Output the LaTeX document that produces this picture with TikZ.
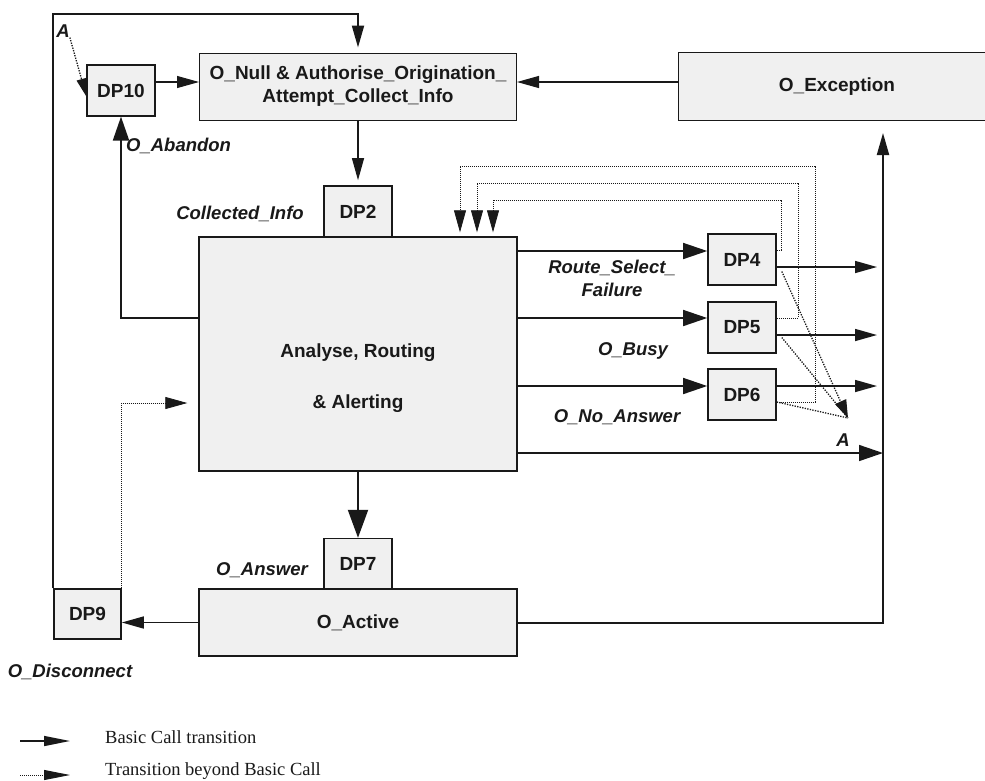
\documentclass[tikz,border=0pt]{standalone}
\usepackage{fontspec}
\setmainfont{Liberation Sans}
\newfontfamily\legendfont{Liberation Serif}
\usetikzlibrary{arrows.meta}
\definecolor{boxgray}{RGB}{240,240,240}
\definecolor{ink}{RGB}{25,25,25}
\begin{document}
\begin{tikzpicture}[x=1pt,y=-1pt,
  every node/.style={inner sep=0pt, text=ink},
  bx/.style={draw=ink, line width=1pt, fill=boxgray, align=center, font=\bfseries\fontsize{19}{23}\selectfont},
  dpbox/.style={bx, line width=1.6pt, minimum width=68pt, minimum height=51pt},
  lbl/.style={font=\bfseries\itshape\fontsize{18.5}{23}\selectfont, align=center},
  thinline/.style={draw=ink, line width=1.1pt},
  midline/.style={draw=ink, line width=1.5pt},
  thickline/.style={draw=ink, line width=2pt},
  dots/.style={draw=ink, line width=0.8pt, dash pattern=on 1pt off 1pt},
  densedots/.style={draw=ink, line width=1.3pt, dash pattern=on 1.3pt off 1.3pt},
  tipA/.style={-{Triangle[length=22pt,width=12pt]}},
  tipB/.style={-{Triangle[length=24pt,width=16pt]}},
  tipC/.style={-{Triangle[length=28pt,width=20pt]}},
]
\useasboundingbox (0,0) rectangle (985,780);

% ---------- boxes ----------
\node[bx, minimum width=317pt, minimum height=67pt] (onull) at (358,86.5)
  {O\_Null \& Authorise\_Origination\_\\Attempt\_Collect\_Info};
\node[bx, draw=none, minimum width=306pt, minimum height=67pt] (oexc) at (832,86.5)
  {\hspace*{10pt}O\_Exception};
\draw[ink, line width=1pt] (oexc.north east) -- (oexc.north west) -- (oexc.south west) -- (oexc.south east);

\node[dpbox, line width=1.2pt] (dp10) at (121,90.5) {DP10};
\node[dpbox] (dp2) at (358,211.5) {DP2};
\node[bx, line width=1.4pt, minimum width=318pt, minimum height=234pt] (ana) at (358,354) {};
\node[font=\bfseries\fontsize{19}{51}\selectfont, align=center] (anatxt) at (358,378)
  {Analyse, Routing\\\& Alerting};
\node[dpbox] (dp4) at (742,259.5) {DP4};
\node[dpbox] (dp5) at (742,327.5) {DP5};
\node[dpbox] (dp6) at (742,394.5) {DP6};
\node[dpbox, line width=1.4pt] (dp7) at (358,564) {DP7};
\node[bx, line width=1.4pt, minimum width=318pt, minimum height=67pt] (oact) at (358,622.5) {O\_Active};
\node[bx, line width=1.6pt, minimum width=67pt, minimum height=50pt] (dp9) at (87.5,614) {DP9};

% ---------- named points ----------
\coordinate (top) at (358,14);
\coordinate (vt) at (883,133);
\coordinate (apt) at (848,418);
\coordinate (c4) at (781,200); \coordinate (d4) at (493,200);
\coordinate (c5) at (798,183); \coordinate (d5) at (477,183);
\coordinate (c6) at (815,166); \coordinate (d6) at (460,166);
\path ([yshift=8.5pt]dp4.west) coordinate (in4)
      ([yshift=9.5pt]dp5.west) coordinate (in5)
      ([yshift=8.5pt]dp6.west) coordinate (in6)
      ([yshift=-7.5pt]dp4.east) coordinate (out4)
      ([yshift=-7.5pt]dp5.east) coordinate (out5)
      ([yshift=8.5pt]dp6.east) coordinate (out6)
      ([yshift=9.5pt]dp4.east) coordinate (fb4)
      ([yshift=9.5pt]dp5.east) coordinate (fb5)
      ([yshift=-7.5pt]dp6.east) coordinate (fb6)
      ([yshift=-99pt]ana.east) coordinate (abot);

% ---------- connectors ----------
\draw[thickline, tipA, shorten >=5pt] (dp9.north west) |- (top) -- (onull.north);
\node[lbl] (atop) at (63,31) {A};
\draw[densedots, -{Triangle[length=18pt,width=10pt]}] (atop.south east) -- ([yshift=-6pt]dp10.west);
\draw[thinline, tipA] ([yshift=8.5pt]dp10.east) -- ([yshift=4.5pt]onull.west);
\draw[thinline, tipA] ([yshift=4.5pt]oexc.west) -- ([yshift=4.5pt]onull.east);
\draw[thinline, tipA, shorten >=5pt] (onull.south) -- (dp2.north);
\draw[thickline, tipB] ([yshift=36pt]ana.west) -| (dp10.south);
\draw[dots, tipA] (dp9.north east) |- ([xshift=-11pt,yshift=-49pt]ana.west);

\draw[midline, tipB] (in4 -| ana.east) -- (in4);
\draw[midline, tipB] (in5 -| ana.east) -- (in5);
\draw[midline, tipB] (in6 -| ana.east) -- (in6);
\draw[midline, tipA, shorten >=6pt] (out4) -- (out4 -| vt);
\draw[midline, tipA, shorten >=6pt] (out5) -- (out5 -| vt);
\draw[midline, tipA, shorten >=6pt] (out6) -- (out6 -| vt);
\draw[midline, tipB] (abot) -- (abot -| vt);
\draw[thickline, tipA] (oact.east) -| (vt);
\draw[thickline, tipC] (ana.south) -- (dp7.north);
\draw[midline, tipA] (oact.west) -- (oact.west -| dp9.east);

\draw[dots, tipA, shorten >=4pt] (fb4) -| (c4) -- (d4) -- (d4 |- ana.north);
\draw[dots, tipA, shorten >=4pt] (fb5) -| (c5) -- (d5) -- (d5 |- ana.north);
\draw[dots, tipA, shorten >=4pt] (fb6) -| (c6) -- (d6) -- (d6 |- ana.north);

\draw[densedots, -{Triangle[length=18pt,width=12pt]}] ([xshift=5pt,yshift=-12pt]dp4.east) -- (apt);
\draw[densedots] ([xshift=5pt,yshift=-10pt]dp5.east) -- (apt);
\draw[densedots] (fb6) -- (apt);
\node[lbl] (abotlbl) at (843,440) {A};

% ---------- labels ----------
\node[lbl, anchor=west] (labandon) at (126,146) {O\_Abandon};
\node[lbl] (lcoll) at (240,214) {Collected\_Info};
\node[lbl] (lroute) at (612,278) {Route\_Select\_\\Failure};
\node[lbl] (lbusy) at (633,351) {O\_Busy};
\node[lbl] (lnoans) at (617,417) {O\_No\_Answer};
\node[lbl] (lans) at (262,570) {O\_Answer};
\node[lbl] (ldisc) at (70,672) {O\_Disconnect};

% ---------- legend ----------
\coordinate (l1a) at (20,741); \coordinate (l1b) at (70,741);
\coordinate (l2a) at (20,775); \coordinate (l2b) at (70,775);
\draw[midline, -{Triangle[length=26pt,width=10pt]}] (l1a) -- (l1b);
\draw[dots, -{Triangle[length=26pt,width=10pt]}] (l2a) -- (l2b);
\node[anchor=west, font=\legendfont\fontsize{18.5}{22}\selectfont] (leg1) at (105,737) {Basic Call transition};
\node[anchor=west, font=\legendfont\fontsize{18.5}{22}\selectfont] (leg2) at (105,771) {Transition beyond Basic Call};
\end{tikzpicture}
\end{document}
